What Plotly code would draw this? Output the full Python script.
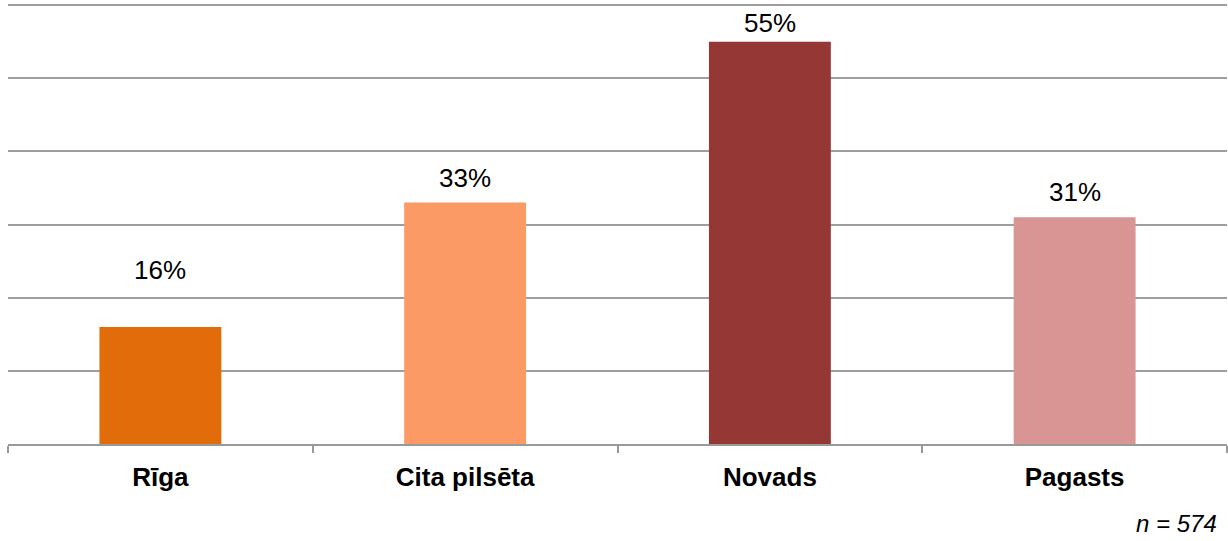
import plotly.graph_objects as go

categories = ["Rīga", "Cita pilsēta", "Novads", "Pagasts"]
values = [16, 33, 55, 31]
bar_colors = ["#E36C0A", "#FC9A66", "#953735", "#D99594"]
label_shifts = [57, 25, 19, 25]
y_ticks = [0, 10, 20, 30, 40, 50, 60]
sample_note = "n = 574"

fig = go.Figure()
fig.add_trace(go.Bar(
    x=categories, y=values, marker=dict(color=bar_colors, line=dict(width=0)),
    width=0.4, showlegend=False, hoverinfo="skip",
))

for c, v, s in zip(categories, values, label_shifts):
    fig.add_annotation(x=c, y=v, text=f"{v}%", showarrow=False, yshift=s,
                       font=dict(family="Liberation Sans, Arial", size=26, color="#000000"))

fig.add_annotation(xref="paper", yref="paper", x=0.9935, y=-0.18, xanchor="right", yanchor="middle",
                   text=f"<i>{sample_note}</i>", showarrow=False,
                   font=dict(family="Liberation Sans, Arial", size=24, color="#000000"))

fig.update_layout(
    width=1228, height=541,
    margin=dict(l=8, r=1, t=4, b=97),
    plot_bgcolor="white", paper_bgcolor="white",
    bargap=0.6,
    xaxis=dict(
        type="category", tickson="boundaries", ticks="outside", ticklen=7, tickwidth=2,
        tickcolor="#999999", showline=True, linecolor="#999999", linewidth=2,
        showgrid=False, ticklabelstandoff=9,
        tickfont=dict(family="Liberation Sans, Arial", size=26, color="#000000", weight="bold"),
    ),
    yaxis=dict(
        range=[0, 60.15], tickvals=y_ticks, showticklabels=False, showgrid=True,
        gridcolor="#9E9E9E", gridwidth=2, zeroline=False, showline=False, fixedrange=True,
    ),
)

fig.write_html("out.html", config={"displayModeBar": False},
               post_script="document.body.style.margin='0';document.body.style.overflow='hidden';")
